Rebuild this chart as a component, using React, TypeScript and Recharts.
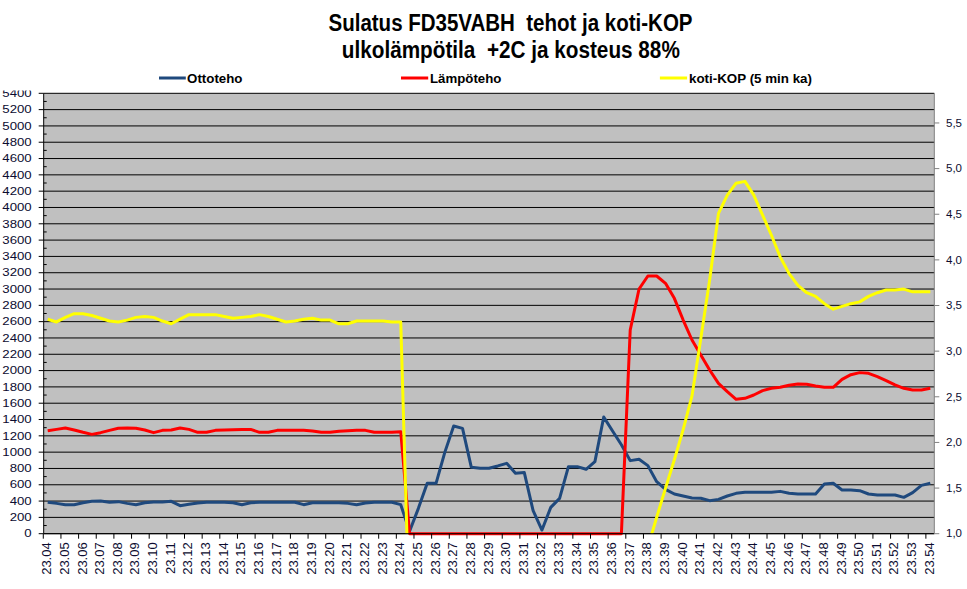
import React from "react";
import { LineChart, Line, XAxis, YAxis, CartesianGrid } from "recharts";

const times = [
  "23.04", "23.04:30", "23.05", "23.05:30", "23.06", "23.06:30", "23.07", "23.07:30", "23.08", "23.08:30",
  "23.09", "23.09:30", "23.10", "23.10:30", "23.11", "23.11:30", "23.12", "23.12:30", "23.13", "23.13:30",
  "23.14", "23.14:30", "23.15", "23.15:30", "23.16", "23.16:30", "23.17", "23.17:30", "23.18", "23.18:30",
  "23.19", "23.19:30", "23.20", "23.20:30", "23.21", "23.21:30", "23.22", "23.22:30", "23.23", "23.23:30",
  "23.24", "23.24:30", "23.25", "23.25:30", "23.26", "23.26:30", "23.27", "23.27:30", "23.28", "23.28:30",
  "23.29", "23.29:30", "23.30", "23.30:30", "23.31", "23.31:30", "23.32", "23.32:30", "23.33", "23.33:30",
  "23.34", "23.34:30", "23.35", "23.35:30", "23.36", "23.36:30", "23.37", "23.37:30", "23.38", "23.38:30",
  "23.39", "23.39:30", "23.40", "23.40:30", "23.41", "23.41:30", "23.42", "23.42:30", "23.43", "23.43:30",
  "23.44", "23.44:30", "23.45", "23.45:30", "23.46", "23.46:30", "23.47", "23.47:30", "23.48", "23.48:30",
  "23.49", "23.49:30", "23.50", "23.50:30", "23.51", "23.51:30", "23.52", "23.52:30", "23.53", "23.53:30",
  "23.54",
];

const ottoteho = [
  385, 372, 356, 356, 380, 397, 401, 385, 393, 372,
  356, 380, 389, 389, 397, 344, 360, 376, 385, 385,
  385, 380, 356, 380, 385, 385, 385, 385, 385, 356,
  380, 380, 380, 380, 372, 356, 376, 385, 385, 385,
  356, 30, 311, 618, 618, 1000, 1320, 1292, 814, 802,
  802, 831, 863, 741, 749, 282, 45, 323, 433, 822,
  822, 790, 884, 1430, 1260, 1090, 896, 912, 835, 638,
  544, 487, 462, 438, 434, 405, 421, 462, 495, 507,
  507, 507, 507, 519, 495, 487, 487, 487, 609, 618,
  536, 536, 528, 487, 475, 475, 475, 446, 503, 593,
  618,
];

const lampoteho = [
  1263, 1279, 1296, 1271, 1243, 1218, 1239, 1267, 1292, 1296,
  1292, 1271, 1239, 1267, 1271, 1296, 1279, 1243, 1243, 1267,
  1271, 1275, 1279, 1279, 1243, 1243, 1267, 1267, 1267, 1267,
  1259, 1243, 1243, 1255, 1263, 1267, 1267, 1243, 1243, 1243,
  1251, 0, 0, 0, 0, 0, 0, 0, 0, 0,
  0, 0, 0, 0, 0, 0, 0, 0, 0, 0,
  0, 0, 0, 0, 0, 0, 2497, 3000, 3160, 3160,
  3070, 2886, 2620, 2375, 2191, 2007, 1844, 1742, 1648, 1660,
  1701, 1754, 1783, 1795, 1820, 1836, 1832, 1811, 1795, 1795,
  1893, 1950, 1975, 1967, 1926, 1877, 1824, 1783, 1763, 1763,
  1783,
];

const kotiKop = [
  3.35, 3.32, 3.37, 3.41, 3.41, 3.39, 3.36, 3.33, 3.32, 3.34,
  3.37, 3.38, 3.37, 3.33, 3.30, 3.35, 3.40, 3.40, 3.40, 3.40,
  3.38, 3.36, 3.37, 3.38, 3.40, 3.38, 3.35, 3.32, 3.33, 3.35,
  3.36, 3.34, 3.34, 3.30, 3.30, 3.33, 3.33, 3.33, 3.33, 3.32,
  3.32, 0, 0, 0, 0, 0, 0, 0, 0, 0,
  0, 0, 0, 0, 0, 0, 0, 0, 0, 0,
  0, 0, 0, 0, 0, 0, 0, 0, 0.85, 1.18,
  1.50, 1.81, 2.14, 2.51, 3.14, 3.78, 4.51, 4.71, 4.84, 4.86,
  4.71, 4.49, 4.27, 4.03, 3.85, 3.72, 3.64, 3.60, 3.52, 3.46,
  3.49, 3.52, 3.54, 3.60, 3.64, 3.67, 3.67, 3.68, 3.65, 3.65,
  3.65,
];

const leftTicks = [
  0, 200, 400, 600, 800, 1000, 1200, 1400, 1600, 1800, 2000, 2200, 2400, 2600,
  2800, 3000, 3200, 3400, 3600, 3800, 4000, 4200, 4400, 4600, 4800, 5000, 5200, 5400,
];
const rightTicks = [1.0, 1.5, 2.0, 2.5, 3.0, 3.5, 4.0, 4.5, 5.0, 5.5];

const seriesNames = ["Ottoteho", "Lämpöteho", "koti-KOP (5 min ka)"];
const seriesColors = ["#1F497D", "#FF0000", "#FFFF00"];
const titleLines = ["Sulatus FD35VABH  tehot ja koti-KOP", "ulkolämpötila  +2C ja kosteus 88%"];

const data = times.map((t, i) => ({
  t,
  otto: ottoteho[i],
  lampo: lampoteho[i],
  kop: kotiKop[i],
}));

const FONT = "'Liberation Sans', Arial, sans-serif";
const TICK_COLOR = "#0c0c30";

const LeftTick = (props: any) => {
  const { x, y, payload } = props;
  const v = payload.value as number;
  return (
    <g>
      <line x1={x - 5} x2={x} y1={y} y2={y} stroke="#000" strokeWidth={1} />
      {v > 0 && <line x1={x} x2={x + 3} y1={y + 8.15} y2={y + 8.15} stroke="#000" strokeWidth={1} />}
      <text
        transform={`translate(${x - 12},${y}) scale(1.15,1)`}
        textAnchor="end"
        dominantBaseline="central"
        fontFamily={FONT}
        fontSize={11.5}
        fill={TICK_COLOR}
      >
        {String(v)}
      </text>
    </g>
  );
};

const RightTick = (props: any) => {
  const { x, y, payload } = props;
  const v = payload.value as number;
  return (
    <g>
      <line x1={x} x2={x + 5} y1={y} y2={y} stroke="#808080" strokeWidth={1} />
      <text
        transform={`translate(${x + 11.7},${y}) scale(1.13,1)`}
        textAnchor="start"
        dominantBaseline="central"
        fontFamily={FONT}
        fontSize={10.2}
        fill={TICK_COLOR}
      >
        {v.toFixed(1).replace(".", ",")}
      </text>
    </g>
  );
};

const XTick = (props: any) => {
  const { x, y, payload } = props;
  return (
    <g>
      <line x1={x - 4.41} x2={x - 4.41} y1={y} y2={y + 5} stroke="#000" strokeWidth={1} />
      <text
        transform={`translate(${x - 1},${y + 8.6}) rotate(-90)`}
        textAnchor="end"
        dominantBaseline="central"
        fontFamily={FONT}
        fontSize={13}
        fill={TICK_COLOR}
      >
        {payload.value}
      </text>
    </g>
  );
};

const legendItems = [
  { x1: 159, x2: 185.8, tx: 187.1, tl: 55.4 },
  { x1: 401, x2: 428.2, tx: 430, tl: 71.4 },
  { x1: 659.9, x2: 687.1, tx: 689, tl: 123 },
];

export default function App() {
  return (
    <div style={{ position: "absolute", left: 0, top: 0, width: 967, height: 589, background: "#fff" }}>
      <LineChart width={967} height={589} data={data} margin={{ top: 93.3, right: 0, bottom: 0, left: 0 }}>
        <CartesianGrid
          yAxisId="l"
          vertical={false}
          horizontal={true}
          stroke="#000"
          strokeWidth={1}
          fill="#C0C0C0"
          fillOpacity={1}
        />
        <XAxis
          dataKey="t"
          type="category"
          interval={1}
          padding={{ left: 4, right: 4 }}
          height={55.3}
          tickSize={0}
          tickMargin={0}
          tickLine={false}
          axisLine={{ stroke: "#000", strokeWidth: 1 }}
          tick={(p: any) => <XTick {...p} />}
        />
        <YAxis
          yAxisId="l"
          orientation="left"
          width={43.7}
          domain={[0, 5400]}
          ticks={leftTicks}
          interval={0}
          tickSize={0}
          tickMargin={0}
          tickLine={false}
          axisLine={{ stroke: "#000", strokeWidth: 1 }}
          tick={(p: any) => <LeftTick {...p} />}
        />
        <YAxis
          yAxisId="r"
          orientation="right"
          width={32.7}
          domain={[1, 5.825]}
          allowDataOverflow={true}
          ticks={rightTicks}
          interval={0}
          tickSize={0}
          tickMargin={0}
          tickLine={false}
          axisLine={{ stroke: "#808080", strokeWidth: 1 }}
          tick={(p: any) => <RightTick {...p} />}
        />
        <Line
          yAxisId="l"
          dataKey="otto"
          name={seriesNames[0]}
          type="linear"
          stroke={seriesColors[0]}
          strokeWidth={3}
          strokeLinejoin="round"
          dot={false}
          activeDot={false}
          isAnimationActive={false}
        />
        <Line
          yAxisId="l"
          dataKey="lampo"
          name={seriesNames[1]}
          type="linear"
          stroke={seriesColors[1]}
          strokeWidth={3}
          strokeLinejoin="round"
          dot={false}
          activeDot={false}
          isAnimationActive={false}
        />
        <Line
          yAxisId="r"
          dataKey="kop"
          name={seriesNames[2]}
          type="linear"
          stroke={seriesColors[2]}
          strokeWidth={3}
          strokeLinejoin="round"
          dot={false}
          activeDot={false}
          isAnimationActive={false}
        />
      </LineChart>
      <svg
        width={967}
        height={589}
        style={{ position: "absolute", left: 0, top: 0, pointerEvents: "none" }}
      >
        <rect x={0} y={0} width={967} height={90.5} fill="#fff" />
        <text
          transform="translate(510.5,30.7) scale(1,1.18)"
          textAnchor="middle"
          fontFamily={FONT}
          fontWeight={700}
          fontSize={20.5}
          fill="#000"
          textLength={364}
          lengthAdjust="spacingAndGlyphs"
          style={{ whiteSpace: "pre" }}
        >
          {titleLines[0]}
        </text>
        <text
          transform="translate(510.8,57.7) scale(1,1.18)"
          textAnchor="middle"
          fontFamily={FONT}
          fontWeight={700}
          fontSize={20.5}
          fill="#000"
          textLength={338}
          lengthAdjust="spacingAndGlyphs"
          style={{ whiteSpace: "pre" }}
        >
          {titleLines[1]}
        </text>
        {legendItems.map((it, i) => (
          <g key={i}>
            <line x1={it.x1} x2={it.x2} y1={78} y2={78} stroke={seriesColors[i]} strokeWidth={3} />
            <text
              x={it.tx}
              y={82.6}
              fontFamily={FONT}
              fontWeight={700}
              fontSize={13.3}
              fill="#000"
              textLength={it.tl}
              lengthAdjust="spacingAndGlyphs"
            >
              {seriesNames[i]}
            </text>
          </g>
        ))}
      </svg>
    </div>
  );
}
